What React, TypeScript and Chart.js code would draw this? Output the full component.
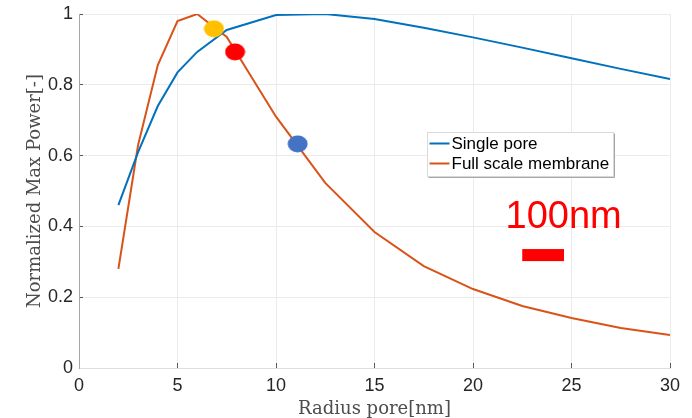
import React, { useEffect, useRef } from "react";
import { Chart, registerables } from "chart.js";

Chart.register(...registerables);

// ---- data ----
const radius = [2, 3, 4, 5, 6, 7.5, 10, 12.5, 15, 17.5, 20, 22.5, 25, 27.5, 30];
const singlePore = [0.46, 0.61, 0.74, 0.835, 0.893, 0.955, 0.997, 1.0, 0.986, 0.961, 0.934, 0.905, 0.875, 0.845, 0.816];
const fullScale = [0.28, 0.63, 0.856, 0.98, 1.0, 0.935, 0.71, 0.523, 0.384, 0.288, 0.223, 0.175, 0.141, 0.113, 0.093];

const markerX = [6.85, 7.92, 11.1];
const markerY = [0.958, 0.893, 0.633];
const markerColors = ["#FFC000", "#FF0000", "#4472C4"];

const seriesLabels = ["Single pore", "Full scale membrane"];
const seriesColors = ["#0072BD", "#D95319"];

const xTicks = [0, 5, 10, 15, 20, 25, 30];
const xTickLabels = ["0", "5", "10", "15", "20", "25", "30"];
const yTicks = [0, 0.2, 0.4, 0.6, 0.8, 1];
const yTickLabels = ["0", "0.2", "0.4", "0.6", "0.8", "1"];

const xTitle = "Radius pore[nm]";
const yTitle = "Normalized Max Power[-]";

const scaleBarText = "100nm";

function ellipseCanvas(color: string): HTMLCanvasElement {
  const c = document.createElement("canvas");
  c.width = 21;
  c.height = 18;
  const g = c.getContext("2d")!;
  g.fillStyle = color;
  g.beginPath();
  g.ellipse(10.5, 9, 10, 8.5, 0, 0, Math.PI * 2);
  g.fill();
  return c;
}

const overlayPlugin = {
  id: "overlay",
  afterDraw(chart: any) {
    const ctx = chart.ctx as CanvasRenderingContext2D;
    const xs = chart.scales.x;
    const ys = chart.scales.y;
    ctx.save();

    // scale-bar annotation
    ctx.fillStyle = "#FF0000";
    ctx.font = "38px 'Liberation Sans', Arial, sans-serif";
    ctx.textBaseline = "alphabetic";
    ctx.textAlign = "left";
    ctx.fillText(scaleBarText, xs.getPixelForValue(21.65), ys.getPixelForValue(0.395));
    const bx1 = xs.getPixelForValue(22.5);
    const bx2 = xs.getPixelForValue(24.62);
    const by1 = ys.getPixelForValue(0.336);
    const by2 = ys.getPixelForValue(0.302);
    ctx.fillRect(bx1, by1, bx2 - bx1, by2 - by1);

    // legend box
    const lx = Math.round(xs.getPixelForValue(17.66)) + 0.5;
    const ly = Math.round(ys.getPixelForValue(0.667)) + 0.5;
    const lw = 186;
    const lh = 44;
    ctx.fillStyle = "#ffffff";
    ctx.fillRect(lx, ly, lw, lh);
    ctx.strokeStyle = "#d9d9d9";
    ctx.lineWidth = 1;
    ctx.strokeRect(lx, ly, lw, lh);
    ctx.strokeStyle = "#a6a6a6";
    ctx.beginPath();
    ctx.moveTo(lx + 1, ly + lh + 1);
    ctx.lineTo(lx + lw + 1, ly + lh + 1);
    ctx.lineTo(lx + lw + 1, ly + 1);
    ctx.stroke();

    ctx.font = "17px 'Liberation Sans', Arial, sans-serif";
    ctx.textBaseline = "middle";
    ctx.fillStyle = "#000000";
    seriesLabels.forEach((lab, i) => {
      const yy = ly + 11 + i * 20;
      ctx.strokeStyle = seriesColors[i];
      ctx.lineWidth = 2;
      ctx.beginPath();
      ctx.moveTo(lx + 2, yy);
      ctx.lineTo(lx + 22, yy);
      ctx.stroke();
      ctx.fillText(lab, lx + 24, yy + 1);
    });
    ctx.restore();
  },
};

export default function App() {
  const ref = useRef<HTMLCanvasElement | null>(null);

  useEffect(() => {
    document.body.style.margin = "0";
    const canvas = ref.current!;
    const markerStyles = markerColors.map((c) => ellipseCanvas(c));

    const chart = new Chart(canvas, {
      type: "line",
      data: {
        datasets: [
          {
            type: "scatter",
            label: "markers",
            data: markerX.map((x, i) => ({ x, y: markerY[i] })),
            pointStyle: markerStyles as any,
            pointRadius: 10,
            showLine: false,
            order: 0,
          } as any,
          {
            label: seriesLabels[0],
            data: radius.map((x, i) => ({ x, y: singlePore[i] })),
            borderColor: seriesColors[0],
            backgroundColor: seriesColors[0],
            borderWidth: 2,
            pointRadius: 0,
            tension: 0,
            fill: false,
            order: 1,
          },
          {
            label: seriesLabels[1],
            data: radius.map((x, i) => ({ x, y: fullScale[i] })),
            borderColor: seriesColors[1],
            backgroundColor: seriesColors[1],
            borderWidth: 2,
            pointRadius: 0,
            tension: 0,
            fill: false,
            order: 2,
          },
        ],
      },
      options: {
        responsive: false,
        animation: false,
        devicePixelRatio: 1,
        layout: { padding: { top: 14, right: 22, left: 0, bottom: 0 } },
        plugins: {
          legend: { display: false },
          tooltip: { enabled: false },
        },
        scales: {
          x: {
            type: "linear",
            min: 0,
            max: 30,
            afterFit: (s: any) => {
              s.height = 50;
              s.paddingLeft = 0;
              s.paddingRight = 0;
            },
            afterBuildTicks: (s: any) => {
              s.ticks = xTicks.map((v) => ({ value: v }));
            },
            ticks: {
              callback: (v: any) => xTickLabels[xTicks.indexOf(Number(v))] ?? "",
              font: { family: "'Liberation Sans', Arial, sans-serif", size: 18 },
              color: "#262626",
              padding: 12,
              maxRotation: 0,
            },
            grid: {
              color: "#ebebeb",
              tickLength: -5,
              tickColor: "#595959",
            },
            border: { color: "#dedede", width: 1 },
            title: {
              display: true,
              text: xTitle,
              font: { family: "'DejaVu Serif', serif", size: 18 },
              color: "#4d4d4d",
              padding: { top: 0, bottom: -2 },
            },
          },
          y: {
            type: "linear",
            min: 0,
            max: 1,
            afterFit: (s: any) => {
              s.width = 79;
              s.paddingTop = 0;
              s.paddingBottom = 0;
            },
            afterBuildTicks: (s: any) => {
              s.ticks = yTicks.map((v) => ({ value: v }));
            },
            ticks: {
              callback: (v: any) => {
                const i = yTicks.findIndex((t) => Math.abs(t - Number(v)) < 1e-9);
                return i >= 0 ? yTickLabels[i] : "";
              },
              font: { family: "'Liberation Sans', Arial, sans-serif", size: 18 },
              color: "#262626",
              padding: 10,
            },
            grid: {
              color: "#ebebeb",
              tickLength: -4,
              tickColor: "#595959",
            },
            border: { color: "#a6a6a6", width: 1 },
            title: {
              display: true,
              text: yTitle,
              font: { family: "'DejaVu Serif', serif", size: 18 },
              color: "#4d4d4d",
              padding: { top: 25, bottom: 0 },
            },
          },
        },
      },
      plugins: [overlayPlugin],
    });

    return () => chart.destroy();
  }, []);

  return (
    <div style={{ width: 692, height: 418, overflow: "hidden" }}>
      <canvas ref={ref} width={692} height={418} style={{ display: "block" }} />
    </div>
  );
}
